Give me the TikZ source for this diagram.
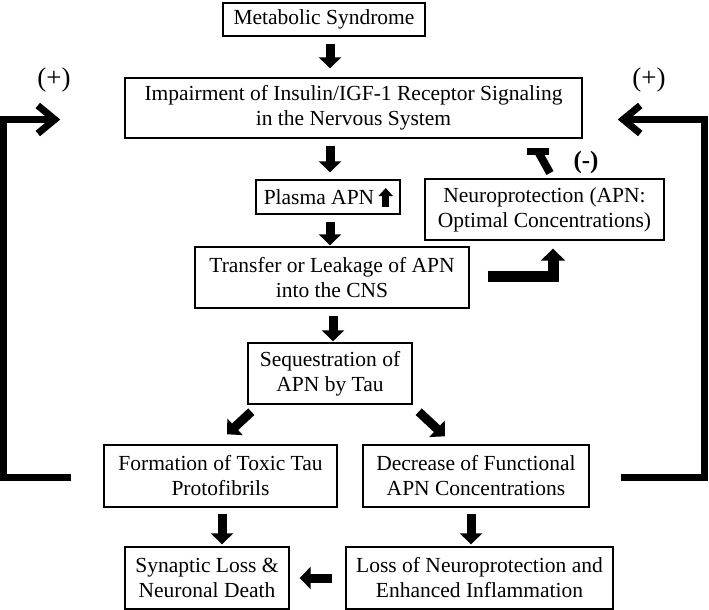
\documentclass[tikz,border=0pt]{standalone}
\usepackage{fontspec}
\setmainfont{Liberation Serif}
\usetikzlibrary{arrows.meta,calc}
\begin{document}
\begin{tikzpicture}[x=1pt,y=-1pt,
  box/.style={draw, line width=1.4pt, align=center, inner sep=0pt, font=\fontsize{21.5}{25}\selectfont},
  blk/.style={line width=9pt, -{Triangle[width=22pt,length=11pt]}},
  fbloop/.style={line width=7pt, -{Straight Barb[length=17pt,width=28pt]}},
  sign/.style={font=\fontsize{27}{30}\selectfont, inner sep=0pt}
]
\useasboundingbox (0,0) rectangle (709,610);
% boxes
\node[box, minimum width=202pt, minimum height=33pt] (meta) at (324,19.5) {Metabolic Syndrome};
\node[box, minimum width=457pt, minimum height=60pt] (imp) at (353.5,108) {Impairment of Insulin/IGF-1 Receptor Signaling\\in the Nervous System};
\node[box, minimum width=144pt, minimum height=34pt] (plasma) at (328,197) {Plasma APN\hspace{18pt}};
\node[box, minimum width=239pt, minimum height=61pt] (neuro) at (544.5,209.5) {Neuroprotection (APN:\\Optimal Concentrations)};
\node[box, minimum width=274pt, minimum height=61pt] (transfer) at (332,277.5) {Transfer or Leakage of APN\\into the CNS};
\node[box, minimum width=164pt, minimum height=61pt] (seq) at (330,373.5) {Sequestration of\\APN by Tau};
\node[box, minimum width=233pt, minimum height=62pt] (form) at (220.5,476) {Formation of Toxic Tau\\Protofibrils};
\node[box, minimum width=226pt, minimum height=62pt] (dec) at (476,476) {Decrease of Functional\\APN Concentrations};
\node[box, minimum width=164pt, minimum height=62pt] (syn) at (207,578) {Synaptic Loss \&\\Neuronal Death};
\node[box, minimum width=267pt, minimum height=62pt] (loss) at (479.5,578) {Loss of Neuroprotection and\\Enhanced Inflammation};
% signs
\node[sign] (pl) at (54,80) {(+)};
\node[sign] (pr) at (649,80) {(+)};
\node[sign, font=\fontsize{25}{28}\selectfont\bfseries] (mn) at (586,162) {(-)};
% helper coordinates
\coordinate (x330) at (330,0);
\coordinate (x333) at (333,0);
\coordinate (x222) at (222,0);
\coordinate (x471) at (471,0);
% vertical block arrows
\draw[blk, shorten <=7pt, shorten >=9pt] (meta.south -| x330) -- (imp.north -| x330);
\draw[blk, shorten <=7pt, shorten >=7pt] (imp.south -| x330) -- (plasma.north -| x330);
\draw[blk, shorten <=7pt, shorten >=1pt] (plasma.south -| x330) -- (transfer.north -| x330);
\draw[blk, shorten <=7pt, shorten >=1pt] (transfer.south -| x333) -- (seq.north -| x333);
\draw[blk, shorten <=6pt, shorten >=2pt] (form.south -| x222) -- (syn.north -| x222);
\draw[blk, shorten <=6pt, shorten >=2pt] (dec.south -| x471) -- (loss.north -| x471);
\draw[blk, shorten <=13pt, shorten >=10pt] (loss.west) -- (syn.east);
% diagonal arrows
\draw[blk] ($(seq.south west)+(4,7)$) -- ($(form.north)+(6.5,-10)$);
\draw[blk] ($(seq.south east)+(6,7)$) -- ($(dec.north)+(-31,-8)$);
% plasma up arrow
\draw[line width=6.5pt, -{Triangle[width=14pt,length=8pt]}] ($(plasma.east)+(-15,10)$) -- ($(plasma.east)+(-15,-9)$);
% elbow arrow transfer -> neuroprotection
\coordinate (es) at ($(transfer.east)+(18,-1)$);
\coordinate (et) at ($(neuro.south)+(8.5,8)$);
\draw[line width=11pt, -{Triangle[width=24pt,length=12pt]}] (es) -| (et);
% inhibition T
\coordinate (tbot) at (550,173);
\coordinate (ttop) at (538,151.5);
\draw[line width=8pt] (tbot) -- (ttop);
\draw[line width=7pt] ($(ttop)+(-11,0)$) -- ($(ttop)+(11,0)$);
% feedback loops
\coordinate (ls) at ($(form.west)+(-32,1)$);
\coordinate (le) at ($(imp.west)+(-64,11.5)$);
\coordinate (rs) at ($(dec.east)+(31,1)$);
\coordinate (re) at ($(imp.east)+(35,11.5)$);
\draw[fbloop] (ls) -- (3.5,477) -- (3.5,119.5) -- (le);
\draw[fbloop] (rs) -- (704.5,477) -- (704.5,119.5) -- (re);
\end{tikzpicture}
\end{document}
